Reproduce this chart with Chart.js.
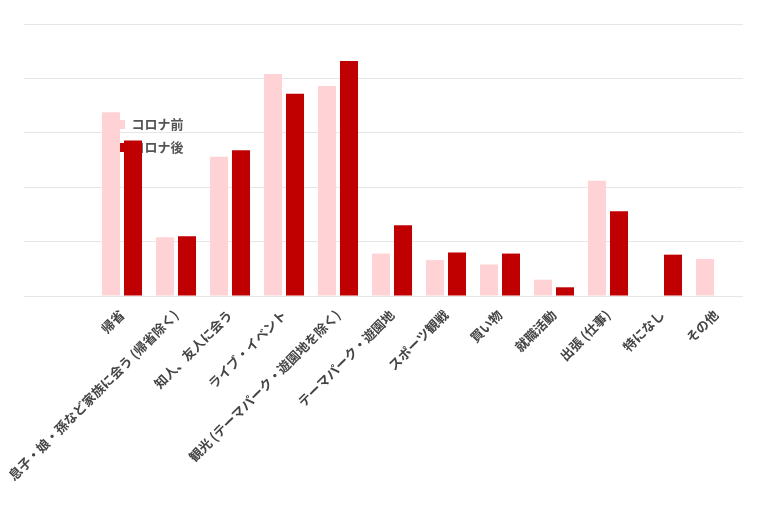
<!DOCTYPE html>
<html>
<head>
<meta charset="utf-8">
<script src="https://cdn.jsdelivr.net/npm/chart.js@4"></script>
<style>
  html, body { margin: 0; padding: 0; background: #fff; }
  #wrap { width: 760px; height: 507px; }
</style>
</head>
<body>
<div id="wrap"><canvas id="chart"></canvas></div>
<script>
const categories = ['帰省', '息子・娘・孫など家族に会う (帰省除く)', '知人、友人に会う', 'ライブ・イベント',
  '観光 (テーマパーク・遊園地を除く)', 'テーマパーク・遊園地', 'スポーツ観戦', '買い物', '就職活動',
  '出張 (仕事)', '特になし', 'その他'];
const before = [16.9, 5.4, 12.8, 20.4, 19.3, 3.9, 3.3, 2.9, 1.5, 10.6, 0, 3.4];
const after = [14.3, 5.5, 13.4, 18.6, 21.6, 6.5, 4.0, 3.9, 0.8, 7.8, 3.8, 0];
const yTicks = [0, 5, 10, 15, 20, 25];

const font = '"Noto Sans CJK JP", "Noto Sans", sans-serif';

new Chart(document.getElementById('chart'), {
  type: 'bar',
  data: {
    labels: categories,
    datasets: [
      { label: 'コロナ前', data: before, backgroundColor: '#ffd3d5' },
      { label: 'コロナ後', data: after, backgroundColor: '#c00000' }
    ]
  },
  options: {
    responsive: true,
    maintainAspectRatio: false,
    animation: false,
    categoryPercentage: 0.815,
    barPercentage: 0.82,
    layout: { padding: { left: 24, right: 17, top: 24, bottom: 0 } },
    plugins: {
      legend: {
        position: 'chartArea',
        align: 'center',
        labels: {
          boxWidth: 20, boxHeight: 9,
          color: '#555',
          font: { family: font, size: 13, weight: 'bold' }
        }
      },
      tooltip: { enabled: false }
    },
    scales: {
      x: {
        grid: { display: false },
        border: { display: false },
        afterFit: axis => { axis.height = 211; },
        ticks: {
          minRotation: 45, maxRotation: 45,
          autoSkip: false,
          color: '#444',
          font: { family: font, size: 13, weight: 'bold' }
        }
      },
      y: {
        min: yTicks[0], max: yTicks[yTicks.length - 1],
        afterBuildTicks: axis => { axis.ticks = yTicks.map(v => ({ value: v })); },
        afterFit: axis => { axis.width = 71; },
        border: { display: false },
        grid: { color: '#e6e6e6', tickLength: 71 },
        ticks: { display: false }
      }
    }
  }
});
</script>
</body>
</html>
